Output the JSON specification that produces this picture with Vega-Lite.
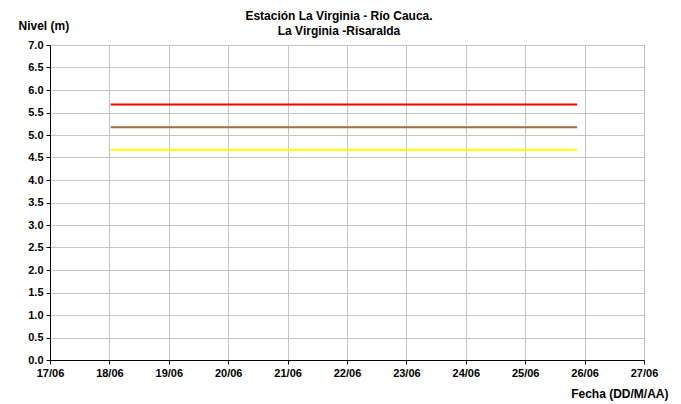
{
  "$schema": "https://vega.github.io/schema/vega-lite/v6.json",
  "width": 594,
  "height": 315,
  "autosize": {"type": "none"},
  "padding": {"left": 50, "top": 45, "right": 37, "bottom": 44},
  "background": "white",
  "title": {
    "text": ["Estación La Virginia  - Río Cauca.", "La Virginia -Risaralda"],
    "anchor": "middle",
    "frame": "group",
    "font": "Liberation Sans",
    "fontSize": 12,
    "fontWeight": "bold",
    "color": "black",
    "lineHeight": 15,
    "offset": 0,
    "dx": -8,
    "dy": 19
  },
  "config": {
    "font": "Liberation Sans",
    "view": {"stroke": "#999999", "strokeWidth": 1},
    "axis": {
      "labelFont": "Liberation Sans",
      "labelFontSize": 11,
      "labelFontWeight": "bold",
      "labelColor": "black",
      "titleFont": "Liberation Sans",
      "titleFontSize": 12,
      "titleFontWeight": "bold",
      "titleColor": "black",
      "domainColor": "black",
      "domainWidth": 1,
      "tickColor": "black",
      "tickSize": 4,
      "gridColor": "#c4c4c4",
      "gridWidth": 1
    }
  },
  "data": {
    "values": [
      {"serie": "roja", "fecha": "2024-06-18T00:30:00", "nivel": 5.68},
      {"serie": "roja", "fecha": "2024-06-25T21:00:00", "nivel": 5.68},
      {"serie": "naranja", "fecha": "2024-06-18T00:30:00", "nivel": 5.17},
      {"serie": "naranja", "fecha": "2024-06-25T21:00:00", "nivel": 5.17},
      {"serie": "amarilla", "fecha": "2024-06-18T00:30:00", "nivel": 4.67},
      {"serie": "amarilla", "fecha": "2024-06-25T21:00:00", "nivel": 4.67}
    ]
  },
  "mark": {"type": "line", "strokeWidth": 2, "clip": true},
  "encoding": {
    "x": {
      "field": "fecha",
      "type": "temporal",
      "scale": {
        "domain": [
          {"year": 2024, "month": 6, "date": 17},
          {"year": 2024, "month": 6, "date": 27}
        ]
      },
      "axis": {
        "title": "Fecha (DD/M/AA)",
        "titleAlign": "right",
        "titleBaseline": "middle",
        "titleAnchor": null,
        "titleX": 618,
        "titleY": 33,
        "format": "%d/%m",
        "labelPadding": 3,
        "labelOverlap": false,
        "labelFlush": false,
        "values": [
          {"year": 2024, "month": 6, "date": 17},
          {"year": 2024, "month": 6, "date": 18},
          {"year": 2024, "month": 6, "date": 19},
          {"year": 2024, "month": 6, "date": 20},
          {"year": 2024, "month": 6, "date": 21},
          {"year": 2024, "month": 6, "date": 22},
          {"year": 2024, "month": 6, "date": 23},
          {"year": 2024, "month": 6, "date": 24},
          {"year": 2024, "month": 6, "date": 25},
          {"year": 2024, "month": 6, "date": 26},
          {"year": 2024, "month": 6, "date": 27}
        ]
      }
    },
    "y": {
      "field": "nivel",
      "type": "quantitative",
      "scale": {"domain": [0, 7], "nice": false, "zero": true},
      "axis": {
        "title": "Nivel (m)",
        "titleAngle": 0,
        "titleAlign": "left",
        "titleBaseline": "middle",
        "titleAnchor": null,
        "titleX": -32,
        "titleY": -20,
        "format": ".1f",
        "labelPadding": 3,
        "labelOverlap": false,
        "values": [0, 0.5, 1, 1.5, 2, 2.5, 3, 3.5, 4, 4.5, 5, 5.5, 6, 6.5, 7]
      }
    },
    "color": {
      "field": "serie",
      "type": "nominal",
      "scale": {
        "domain": ["roja", "naranja", "amarilla"],
        "range": ["#ff0000", "#a0703c", "#ffff00"]
      },
      "legend": null
    }
  }
}
